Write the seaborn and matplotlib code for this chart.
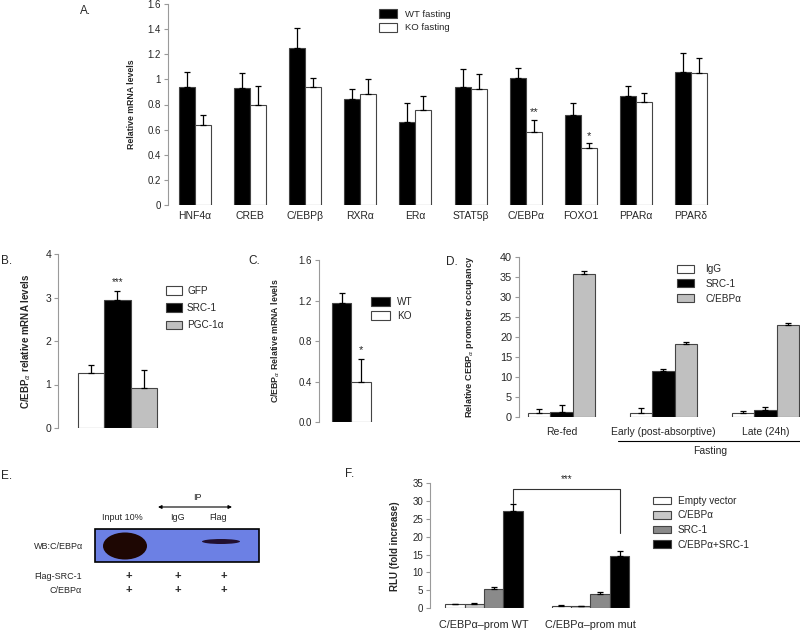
import matplotlib
matplotlib.use('Agg')
import matplotlib.pyplot as plt
import matplotlib.patches as mpatches
import matplotlib.transforms as mtrans
import seaborn as sns
import pandas as pd

sns.set_style('white')
plt.rcParams['font.family'] = ['Liberation Sans', 'DejaVu Sans']

# ---------------- data ----------------
# A. liver mRNA, fasting WT vs KO
genes = ['HNF4α', 'CREB', 'C/EBPβ', 'RXRα', 'ERα', 'STAT5β', 'C/EBPα', 'FOXO1', 'PPARα', 'PPARδ']
a_groups = ['WT fasting', 'KO fasting']
a_wt = [0.94, 0.93, 1.25, 0.84, 0.66, 0.94, 1.01, 0.72, 0.87, 1.06]
a_wt_err = [0.12, 0.12, 0.16, 0.08, 0.15, 0.14, 0.08, 0.09, 0.08, 0.15]
a_ko = [0.64, 0.80, 0.94, 0.88, 0.76, 0.92, 0.58, 0.45, 0.82, 1.05]
a_ko_err = [0.08, 0.15, 0.07, 0.12, 0.11, 0.12, 0.10, 0.04, 0.07, 0.12]
a_stars = {'C/EBPα': '**', 'FOXO1': '*'}

# B. adenovirus
b_groups = ['GFP', 'SRC-1', 'PGC-1α']
b_vals = [1.27, 2.95, 0.93]
b_err = [0.18, 0.20, 0.40]

# C. WT vs KO
c_groups = ['WT', 'KO']
c_vals = [1.18, 0.40]
c_err = [0.09, 0.22]

# D. ChIP
d_conds = ['Re-fed', 'Early (post-absorptive)', 'Late (24h)']
d_groups = ['IgG', 'SRC-1', 'C/EBPα']
d_igg = [0.9, 0.9, 0.9]
d_igg_err = [1.1, 1.4, 0.7]
d_src = [1.3, 11.5, 1.8]
d_src_err = [1.8, 0.6, 0.6]
d_cebp = [35.7, 18.2, 22.9]
d_cebp_err = [0.9, 0.5, 0.5]

# F. luciferase
f_conds = ['C/EBPα\u2013prom WT', 'C/EBPα\u2013prom mut']
f_groups = ['Empty vector', 'C/EBPα', 'SRC-1', 'C/EBPα+SRC-1']
f_vals = {'Empty vector': [1.0, 0.7], 'C/EBPα': [1.0, 0.6],
          'SRC-1': [5.3, 3.9], 'C/EBPα+SRC-1': [27.3, 14.7]}
f_err = {'Empty vector': [0.0, 0.2], 'C/EBPα': [0.3, 0.0],
         'SRC-1': [0.5, 0.6], 'C/EBPα+SRC-1': [1.9, 1.4]}

# ---------------- helpers ----------------
W, H = 800, 631
fig = plt.figure(figsize=(8, 6.31), dpi=100)
EDGE = '#444444'


def px_axes(x0, y0, x1, y1):
    return fig.add_axes([x0 / W, 1 - y1 / H, (x1 - x0) / W, (y1 - y0) / H])


def add_errors(ax, conts, errs):
    for cont, ee in zip(conts, errs):
        for bar, e in zip(cont, ee):
            x = bar.get_x() + bar.get_width() / 2
            ax.errorbar(x, bar.get_height(), yerr=[[0], [e]], color='black',
                        lw=0.9, capsize=2.3, capthick=0.9, zorder=1)


def style_axis(ax, ysize=7):
    sns.despine(ax=ax, bottom=True)
    ax.spines['left'].set_color('#9a9a9a')
    ax.spines['left'].set_linewidth(0.8)
    ax.tick_params(axis='y', left=True, length=3, width=0.8, color='#9a9a9a',
                   labelsize=ysize, pad=2)
    ax.tick_params(axis='x', bottom=False, length=0, labelsize=7.5)
    ax.set_xlabel('')


def legend(ax, handles, labels, x, y, fs, hl, hh, ls, tp):
    ax.legend(handles, labels, loc='upper left', bbox_to_anchor=(x / W, 1 - y / H),
              bbox_transform=fig.transFigure, frameon=False, fontsize=fs,
              handlelength=hl, handleheight=hh, labelspacing=ls,
              handletextpad=tp, borderpad=0, borderaxespad=0)


def bar_center(bar):
    return bar.get_x() + bar.get_width() / 2


# ---------------- A ----------------
axA = px_axes(168, 4, 718, 205)
dfA = pd.DataFrame({'gene': genes * 2, 'val': a_wt + a_ko,
                    'grp': [a_groups[0]] * len(genes) + [a_groups[1]] * len(genes)})
sns.barplot(data=dfA, x='gene', y='val', hue='grp', ax=axA, width=0.58,
            palette={a_groups[0]: 'black', a_groups[1]: 'white'},
            edgecolor=EDGE, linewidth=0.8, errorbar=None, legend=False)
contA = list(axA.containers)
add_errors(axA, contA, [a_wt_err, a_ko_err])
axA.set_ylim(0, 1.6)
axA.set_xlim(-0.49, 9.49)
axA.set_yticks([0, 0.2, 0.4, 0.6, 0.8, 1.0, 1.2, 1.4, 1.6])
axA.set_yticklabels(['0', '0.2', '0.4', '0.6', '0.8', '1', '1.2', '1.4', '1.6'])
style_axis(axA)
axA.tick_params(axis='x', pad=4)
axA.set_ylabel('Relative mRNA levels', fontsize=6.3, fontweight='bold')
axA.yaxis.set_label_coords(-0.058, 0.5)
for i, g in enumerate(genes):
    if g in a_stars:
        bar = contA[1][i]
        axA.text(bar_center(bar), a_ko[i] + a_ko_err[i] + 0.06, a_stars[g],
                 ha='center', va='center', fontsize=8)
legend(axA, contA, a_groups, 379, 9, 6.8, 1.95, 1.1, 0.4, 0.85)

# ---------------- B ----------------
axB = px_axes(58, 254, 250, 428)
sns.barplot(x=b_groups, y=b_vals, hue=b_groups, ax=axB, width=1.0,
            palette={'GFP': 'white', 'SRC-1': 'black', 'PGC-1α': '#c0c0c0'},
            edgecolor=EDGE, linewidth=0.8, errorbar=None, legend=False)
contB = list(axB.containers)
add_errors(axB, contB, [[e] for e in b_err])
axB.set_ylim(0, 4)
axB.set_xlim(-1.245, 6.0)
axB.set_yticks([0, 1, 2, 3, 4])
axB.set_xticks([])
style_axis(axB, 7.5)
axB.set_ylabel('C/EBP$_{\\alpha}$ relative mRNA levels', fontsize=7, fontweight='bold')
axB.yaxis.set_label_coords(-0.13, 0.5)
axB.text(bar_center(contB[1][0]), b_vals[1] + b_err[1] + 0.2, '***',
         ha='center', va='center', fontsize=7)
legend(axB, contB, b_groups, 166, 286, 7.2, 1.6, 0.95, 0.72, 0.5)

# ---------------- C ----------------
axC = px_axes(319, 260, 420, 422)
sns.barplot(x=c_groups, y=c_vals, hue=c_groups, ax=axC, width=1.0,
            palette={'WT': 'black', 'KO': 'white'},
            edgecolor=EDGE, linewidth=0.8, errorbar=None, legend=False)
contC = list(axC.containers)
add_errors(axC, contC, [[e] for e in c_err])
axC.set_ylim(0, 1.6)
axC.set_xlim(-1.15, 4.0)
axC.set_yticks([0, 0.4, 0.8, 1.2, 1.6])
axC.set_yticklabels(['0.0', '0.4', '0.8', '1.2', '1.6'])
axC.set_xticks([])
style_axis(axC)
axC.set_ylabel('C/EBP$_{\\alpha}$ Relative mRNA levels', fontsize=6.3, fontweight='bold')
axC.yaxis.set_label_coords(-0.37, 0.5)
axC.text(bar_center(contC[1][0]), c_vals[1] + c_err[1] + 0.09, '*',
         ha='center', va='center', fontsize=8)
legend(axC, contC, c_groups, 371, 297, 7.2, 1.9, 0.95, 0.42, 0.7)

# ---------------- D ----------------
axD = px_axes(519, 257, 800, 417)
dfD = pd.DataFrame({'cond': d_conds * 3, 'val': d_igg + d_src + d_cebp,
                    'grp': [g for g in d_groups for _ in d_conds]})
sns.barplot(data=dfD, x='cond', y='val', hue='grp', ax=axD, width=0.66,
            palette={'IgG': 'white', 'SRC-1': 'black', 'C/EBPα': '#c0c0c0'},
            edgecolor=EDGE, linewidth=0.8, errorbar=None, legend=False)
contD = list(axD.containers)
add_errors(axD, contD, [d_igg_err, d_src_err, d_cebp_err])
axD.set_ylim(0, 40)
axD.set_xlim(-0.417, 2.34)
axD.set_yticks(range(0, 41, 5))
style_axis(axD, 7.8)
axD.tick_params(axis='x', pad=7)
axD.set_ylabel('Relative CEBP$_{\\alpha}$ promoter occupancy', fontsize=6.6, fontweight='bold')
axD.yaxis.set_label_coords(-0.152, 0.5)
trD = mtrans.blended_transform_factory(axD.transData, axD.transAxes)
axD.plot([0.554, 2.34], [-0.15, -0.15], color='black', lw=0.8,
         transform=trD, clip_on=False)
axD.text(1.456, -0.21, 'Fasting', transform=trD, ha='center', va='center', fontsize=7.5)
legend(axD, contD, d_groups, 677, 264, 7.2, 1.7, 0.85, 0.48, 1.15)

# ---------------- E (western blot) ----------------
axE = px_axes(0, 460, 340, 631)
axE.set_xlim(0, 340)
axE.set_ylim(631, 460)
axE.axis('off')
axE.add_patch(mpatches.Rectangle((95, 529), 164, 33, facecolor='#6c80e4',
                                 edgecolor='black', lw=1.2))
axE.add_patch(mpatches.Ellipse((125, 546), 44, 27, facecolor='#1e0703', edgecolor='none'))
axE.add_patch(mpatches.Ellipse((221, 541.5), 38, 5, facecolor='#221030', edgecolor='none'))
for x, t in zip([122, 177, 218], ['Input 10%', 'IgG', 'Flag']):
    axE.text(x, 517, t, ha='center', va='center', fontsize=6.5)
axE.text(197, 497, 'IP', ha='center', va='center', fontsize=6.5)
axE.annotate('', xy=(158, 507), xytext=(232, 507),
             arrowprops=dict(arrowstyle='<|-|>', color='black', lw=0.8,
                             mutation_scale=5, shrinkA=0, shrinkB=0))
axE.text(83, 546, 'WB:C/EBPα', ha='right', va='center', fontsize=6.5)
axE.text(82, 576, 'Flag-SRC-1', ha='right', va='center', fontsize=6.5)
axE.text(82, 590, 'C/EBPα', ha='right', va='center', fontsize=6.5)
for x in [129, 178, 224]:
    for y in [576, 590]:
        axE.text(x, y, '+', ha='center', va='center', fontsize=8, fontweight='bold')

# ---------------- F ----------------
axF = px_axes(430, 483.4, 640, 608)
dfF = pd.DataFrame({'cond': f_conds * len(f_groups),
                    'val': [v for g in f_groups for v in f_vals[g]],
                    'grp': [g for g in f_groups for _ in f_conds]})
sns.barplot(data=dfF, x='cond', y='val', hue='grp', ax=axF, width=0.732,
            palette={'Empty vector': 'white', 'C/EBPα': '#c8c8c8',
                     'SRC-1': '#8a8a8a', 'C/EBPα+SRC-1': 'black'},
            edgecolor=EDGE, linewidth=0.8, errorbar=None, legend=False)
contF = list(axF.containers)
add_errors(axF, contF, [f_err[g] for g in f_groups])
axF.set_ylim(0, 35)
axF.set_xlim(-0.507, 1.465)
axF.set_yticks(range(0, 36, 5))
style_axis(axF)
axF.tick_params(axis='x', pad=8.5, labelsize=7.8)
axF.set_ylabel('RLU (fold increase)', fontsize=7, fontweight='bold')
axF.yaxis.set_label_coords(-0.143, 0.5)
# significance bracket between the two C/EBPα+SRC-1 bars
b_wt, b_mut = contF[3][0], contF[3][1]
top_y = 33.4
left_y = f_vals['C/EBPα+SRC-1'][0] + f_err['C/EBPα+SRC-1'][0] + 0.4
right_y = f_vals['C/EBPα+SRC-1'][1] + f_err['C/EBPα+SRC-1'][1] + 5
axF.plot([bar_center(b_wt), bar_center(b_wt), bar_center(b_mut), bar_center(b_mut)],
         [left_y, top_y, top_y, right_y], color='#333333', lw=0.8, clip_on=False)
axF.text((bar_center(b_wt) + bar_center(b_mut)) / 2, 36.3, '***',
         ha='center', va='center', fontsize=7)
legend(axF, contF, f_groups, 653, 496, 7.2, 1.8, 0.75, 0.45, 0.7)

# ---------------- panel letters ----------------
for lbl, x, y in [('A.', 80, 11), ('B.', 1, 261), ('C.', 248, 261),
                  ('D.', 446, 262), ('E.', 1, 476), ('F.', 345, 474)]:
    fig.text(x / W, 1 - y / H, lbl, ha='left', va='center', fontsize=8.5)

fig.savefig('out.png', dpi=100)
